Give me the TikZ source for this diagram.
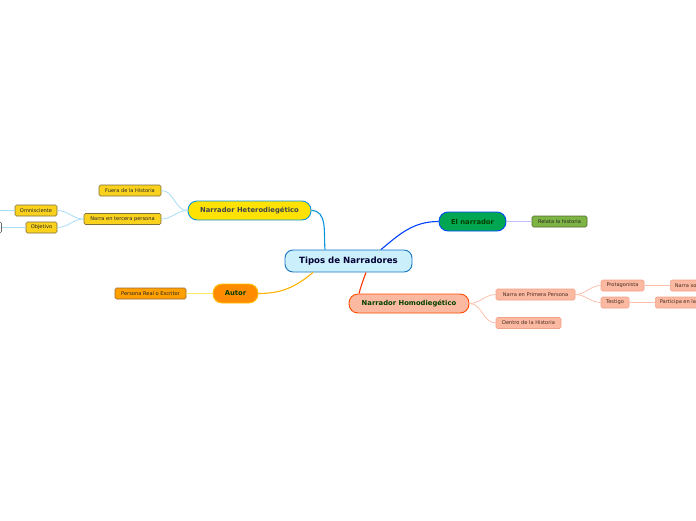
\documentclass[tikz,border=0pt]{standalone}
\usepackage{fontspec}
\setmainfont{DejaVu Sans}
\begin{document}
\begin{tikzpicture}[x=1pt,y=-1pt,
  base/.style={draw,inner sep=0pt,line width=0.8pt,align=center},
  mainnode/.style={base,rounded corners=9pt,font=\fontsize{6.8}{8}\selectfont\bfseries,line width=0.9pt},
  small/.style={base,rounded corners=1.5pt,font=\fontsize{5.1}{6}\selectfont,line width=0.6pt,minimum height=11pt},
  yel/.style={small,fill=yfill,draw=ydraw,text=black!85},
  sal/.style={small,fill=sfill,draw=sdraw,text=stext},
  lnk/.style={line width=0.8pt},
]
\definecolor{yfill}{HTML}{FAD21E}
\definecolor{ydraw}{HTML}{7E6E3A}
\definecolor{sfill}{HTML}{FBB9A2}
\definecolor{sdraw}{HTML}{F3A28A}
\definecolor{stext}{HTML}{4A2A20}
\definecolor{lblue}{HTML}{A8DDF4}
\definecolor{lsal}{HTML}{FAC0AC}
\definecolor{gfill}{HTML}{00A651}
\definecolor{ofill}{HTML}{7DB443}
\definecolor{odraw}{HTML}{4F6B2E}
\useasboundingbox (0,0) rectangle (696,520);
\clip (0,0) rectangle (696,520);
% main nodes
\node[base,rounded corners=8pt,fill=cyan!20,draw=cyan!55!blue,line width=0.9pt,minimum width=127pt,minimum height=22pt,font=\fontsize{8.6}{10}\selectfont\bfseries,text=black!80!blue] (c) at (348.5,261) {Tipos de Narradores};
\node[mainnode,fill=yellow!85!orange,draw=cyan!80!blue,minimum width=123pt,minimum height=19pt,text=black!80!cyan] (het) at (249.5,210.5) {Narrador Heterodiegético};
\node[mainnode,fill=gfill,draw=blue!70!cyan,minimum width=67pt,minimum height=19pt,text=black!75!green] (eln) at (472.5,221.5) {El narrador};
\node[mainnode,fill=orange!90!yellow,draw=orange!50!yellow,minimum width=45pt,minimum height=19pt,text=black!75!green] (aut) at (235.5,293.5) {Autor};
\node[mainnode,fill=sfill,draw=red!40!orange,minimum width=120pt,minimum height=19pt,text=black!75!green] (hom) at (409,303.5) {Narrador Homodiegético};
% small nodes
\node[yel,minimum width=62pt] (fue) at (130,190.5) {Fuera de la Historia};
\node[yel,minimum width=77pt] (ter) at (122.5,219) {Narra en tercera persona};
\node[yel,minimum width=42pt] (omn) at (36,210.5) {Omnisciente};
\node[yel,minimum width=31pt] (obj) at (41.5,227.5) {Objetivo};
\node[small,fill=white,draw=black!60,minimum width=63pt] (lb) at (-30,227.5) {};
\coordinate (lo) at (-5,210.5);
\node[small,fill=ofill,draw=odraw,minimum width=55pt,text=black!85] (rel) at (559.5,221.5) {Relata la historia};
\node[small,fill=orange!75!yellow,draw=brown!80!black,minimum width=71pt,text=black!85] (per) at (150.5,293.5) {Persona Real o Escritor};
\node[sal,minimum width=79pt] (pri) at (535.5,294.5) {Narra en Primera Persona};
\node[sal,minimum width=65pt] (den) at (528.5,323) {Dentro de la Historia};
\node[sal,minimum width=43pt] (pro) at (622.5,285.5) {Protagonista};
\node[sal,minimum width=28pt] (tes) at (615,302.5) {Testigo};
\node[sal,anchor=west,inner xsep=4.5pt] (nsa) at (670,285.5) {Narra sobre sí mismo};
\node[sal,anchor=west,inner xsep=4.5pt] (par) at (655,302.5) {Participa en la historia};
% main connectors
\draw[lnk,line width=1.1pt,cyan!80!blue] ([xshift=-23.5pt]c.north) to[out=95,in=0] (het.east);
\draw[lnk,line width=1.1pt,blue!75!cyan] ([xshift=32.5pt]c.north) to[out=40,in=180] (eln.west);
\draw[lnk,line width=1.1pt,orange!60!yellow] ([xshift=-35.5pt]c.south) to[out=-140,in=0] (aut.east);
\draw[lnk,line width=1.1pt,red!60!orange] ([xshift=17.5pt]c.south) to[out=-110,in=75] ([xshift=-50pt]hom.north);
% child connectors
\draw[lnk,lblue] (het.west) to[out=180,in=0] (fue.east);
\draw[lnk,lblue] (het.west) to[out=180,in=0] (ter.east);
\draw[lnk,lblue] (ter.west) to[out=180,in=0] (omn.east);
\draw[lnk,lblue] (ter.west) to[out=180,in=0] (obj.east);
\draw[lnk,lblue] (omn.west) -- (lo);
\draw[lnk,lblue] (obj.west) -- (lb.east);
\draw[lnk,blue!25] (eln.east) -- (rel.west);
\draw[lnk,orange!30!yellow!60] (aut.west) -- (per.east);
\draw[lnk,lsal] (hom.east) to[out=0,in=180] (pri.west);
\draw[lnk,lsal] (hom.east) to[out=0,in=180] (den.west);
\draw[lnk,lsal] (pri.east) to[out=0,in=180] (pro.west);
\draw[lnk,lsal] (pri.east) to[out=0,in=180] (tes.west);
\draw[lnk,lsal] (pro.east) -- (nsa.west);
\draw[lnk,lsal] (tes.east) -- (par.west);
\end{tikzpicture}
\end{document}
